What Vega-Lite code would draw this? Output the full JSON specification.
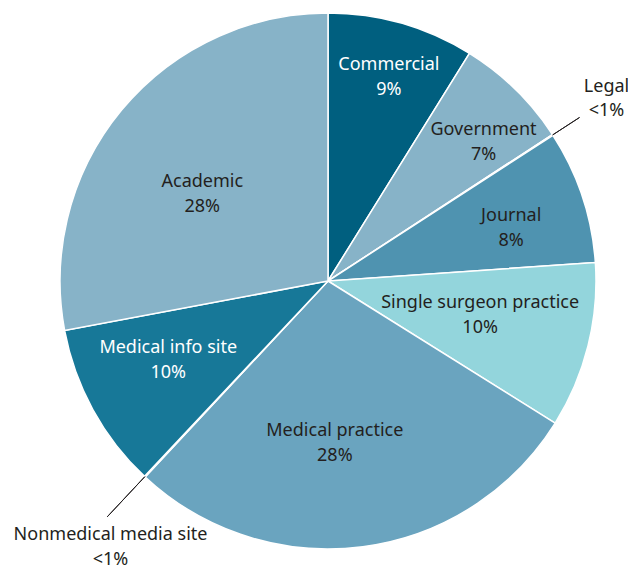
{
  "$schema": "https://vega.github.io/schema/vega-lite/v6.json",
  "width": 600,
  "height": 562,
  "autosize": {"type": "none"},
  "padding": {"left": 28, "top": 0, "right": 0, "bottom": 7},
  "background": "white",
  "config": {"view": {"stroke": null}, "text": {"font": "Noto Sans", "fontSize": 18, "baseline": "middle", "align": "center"}},
  "data": {"values": [
    {"category": "Commercial", "value": 8.85, "pct": "9%", "order": 1},
    {"category": "Government", "value": 6.95, "pct": "7%", "order": 2},
    {"category": "Legal", "value": 0.05, "pct": "<1%", "order": 3},
    {"category": "Journal", "value": 8.05, "pct": "8%", "order": 4},
    {"category": "Single surgeon practice", "value": 10.0, "pct": "10%", "order": 5},
    {"category": "Medical practice", "value": 28.05, "pct": "28%", "order": 6},
    {"category": "Nonmedical media site", "value": 0.05, "pct": "<1%", "order": 7},
    {"category": "Medical info site", "value": 10.05, "pct": "10%", "order": 8},
    {"category": "Academic", "value": 27.95, "pct": "28%", "order": 9}
  ]},
  "encoding": {
    "theta": {"field": "value", "type": "quantitative", "stack": true},
    "order": {"field": "order", "type": "quantitative"},
    "detail": {"field": "category"}
  },
  "layer": [
    {"mark": {"type": "arc", "radius": 268, "stroke": "white", "strokeWidth": 1.5},
     "encoding": {"color": {"field": "category", "type": "nominal", "legend": null,
       "scale": {"domain": ["Commercial", "Government", "Legal", "Journal", "Single surgeon practice", "Medical practice", "Nonmedical media site", "Medical info site", "Academic"],
                 "range": ["#005f7f", "#87b3c8", "#ffffff", "#4f93b0", "#93d5dc", "#6aa4bf", "#ffffff", "#177898", "#87b3c8"]}}}},
    {"mark": {"type": "arc", "radius": 300, "radius2": 268, "padAngle": 0.05, "fill": null, "stroke": "#231f20", "strokeWidth": 1},
     "encoding": {"strokeOpacity": {"condition": {"test": "datum.category === 'Legal'", "value": 1}, "value": 0}}},
    {"mark": {"type": "arc", "radius": 323, "radius2": 268, "padAngle": 0.05, "fill": null, "stroke": "#231f20", "strokeWidth": 1},
     "encoding": {"strokeOpacity": {"condition": {"test": "datum.category === 'Nonmedical media site'", "value": 1}, "value": 0}}},

    {"mark": {"type": "text", "radius": 214.6, "dx": 2, "dy": -10, "color": "white"},
     "encoding": {"text": {"field": "category"}, "opacity": {"condition": {"test": "datum.category === 'Commercial'", "value": 1}, "value": 0}}},
    {"mark": {"type": "text", "radius": 214.6, "dx": 2, "dy": 15, "color": "white"},
     "encoding": {"text": {"field": "pct"}, "opacity": {"condition": {"test": "datum.category === 'Commercial'", "value": 1}, "value": 0}}},

    {"mark": {"type": "text", "radius": 209.5, "dx": 9, "dy": -1, "color": "#231f20"},
     "encoding": {"text": {"field": "category"}, "opacity": {"condition": {"test": "datum.category === 'Government'", "value": 1}, "value": 0}}},
    {"mark": {"type": "text", "radius": 209.5, "dx": 9, "dy": 24, "color": "#231f20"},
     "encoding": {"text": {"field": "pct"}, "opacity": {"condition": {"test": "datum.category === 'Government'", "value": 1}, "value": 0}}},

    {"mark": {"type": "text", "radius": 333.4, "dx": -1, "dy": -12.5, "color": "#231f20"},
     "encoding": {"text": {"field": "category"}, "opacity": {"condition": {"test": "datum.category === 'Legal'", "value": 1}, "value": 0}}},
    {"mark": {"type": "text", "radius": 333.4, "dx": -1, "dy": 12, "color": "#231f20"},
     "encoding": {"text": {"field": "pct"}, "opacity": {"condition": {"test": "datum.category === 'Legal'", "value": 1}, "value": 0}}},

    {"mark": {"type": "text", "radius": 191, "dx": 2, "dy": -4.5, "color": "#231f20"},
     "encoding": {"text": {"field": "category"}, "opacity": {"condition": {"test": "datum.category === 'Journal'", "value": 1}, "value": 0}}},
    {"mark": {"type": "text", "radius": 191, "dx": 2, "dy": 20.5, "color": "#231f20"},
     "encoding": {"text": {"field": "pct"}, "opacity": {"condition": {"test": "datum.category === 'Journal'", "value": 1}, "value": 0}}},

    {"mark": {"type": "text", "radius": 155.8, "dx": 1, "dy": -16, "color": "#231f20"},
     "encoding": {"text": {"field": "category"}, "opacity": {"condition": {"test": "datum.category === 'Single surgeon practice'", "value": 1}, "value": 0}}},
    {"mark": {"type": "text", "radius": 155.8, "dx": 1, "dy": 9, "color": "#231f20"},
     "encoding": {"text": {"field": "pct"}, "opacity": {"condition": {"test": "datum.category === 'Single surgeon practice'", "value": 1}, "value": 0}}},

    {"mark": {"type": "text", "radius": 160.2, "dx": -14, "dy": -9, "color": "#231f20"},
     "encoding": {"text": {"field": "category"}, "opacity": {"condition": {"test": "datum.category === 'Medical practice'", "value": 1}, "value": 0}}},
    {"mark": {"type": "text", "radius": 160.2, "dx": -14, "dy": 16, "color": "#231f20"},
     "encoding": {"text": {"field": "pct"}, "opacity": {"condition": {"test": "datum.category === 'Medical practice'", "value": 1}, "value": 0}}},

    {"mark": {"type": "text", "radius": 343.1, "dx": 17, "dy": 3.5, "color": "#231f20"},
     "encoding": {"text": {"field": "category"}, "opacity": {"condition": {"test": "datum.category === 'Nonmedical media site'", "value": 1}, "value": 0}}},
    {"mark": {"type": "text", "radius": 343.1, "dx": 17, "dy": 28.5, "color": "#231f20"},
     "encoding": {"text": {"field": "pct"}, "opacity": {"condition": {"test": "datum.category === 'Nonmedical media site'", "value": 1}, "value": 0}}},

    {"mark": {"type": "text", "radius": 177.6, "dx": -4, "dy": -18, "color": "white"},
     "encoding": {"text": {"field": "category"}, "opacity": {"condition": {"test": "datum.category === 'Medical info site'", "value": 1}, "value": 0}}},
    {"mark": {"type": "text", "radius": 177.6, "dx": -4, "dy": 7, "color": "white"},
     "encoding": {"text": {"field": "pct"}, "opacity": {"condition": {"test": "datum.category === 'Medical info site'", "value": 1}, "value": 0}}},

    {"mark": {"type": "text", "radius": 154.3, "dx": -7, "dy": 0, "color": "#231f20"},
     "encoding": {"text": {"field": "category"}, "opacity": {"condition": {"test": "datum.category === 'Academic'", "value": 1}, "value": 0}}},
    {"mark": {"type": "text", "radius": 154.3, "dx": -7, "dy": 25, "color": "#231f20"},
     "encoding": {"text": {"field": "pct"}, "opacity": {"condition": {"test": "datum.category === 'Academic'", "value": 1}, "value": 0}}}
  ]
}
